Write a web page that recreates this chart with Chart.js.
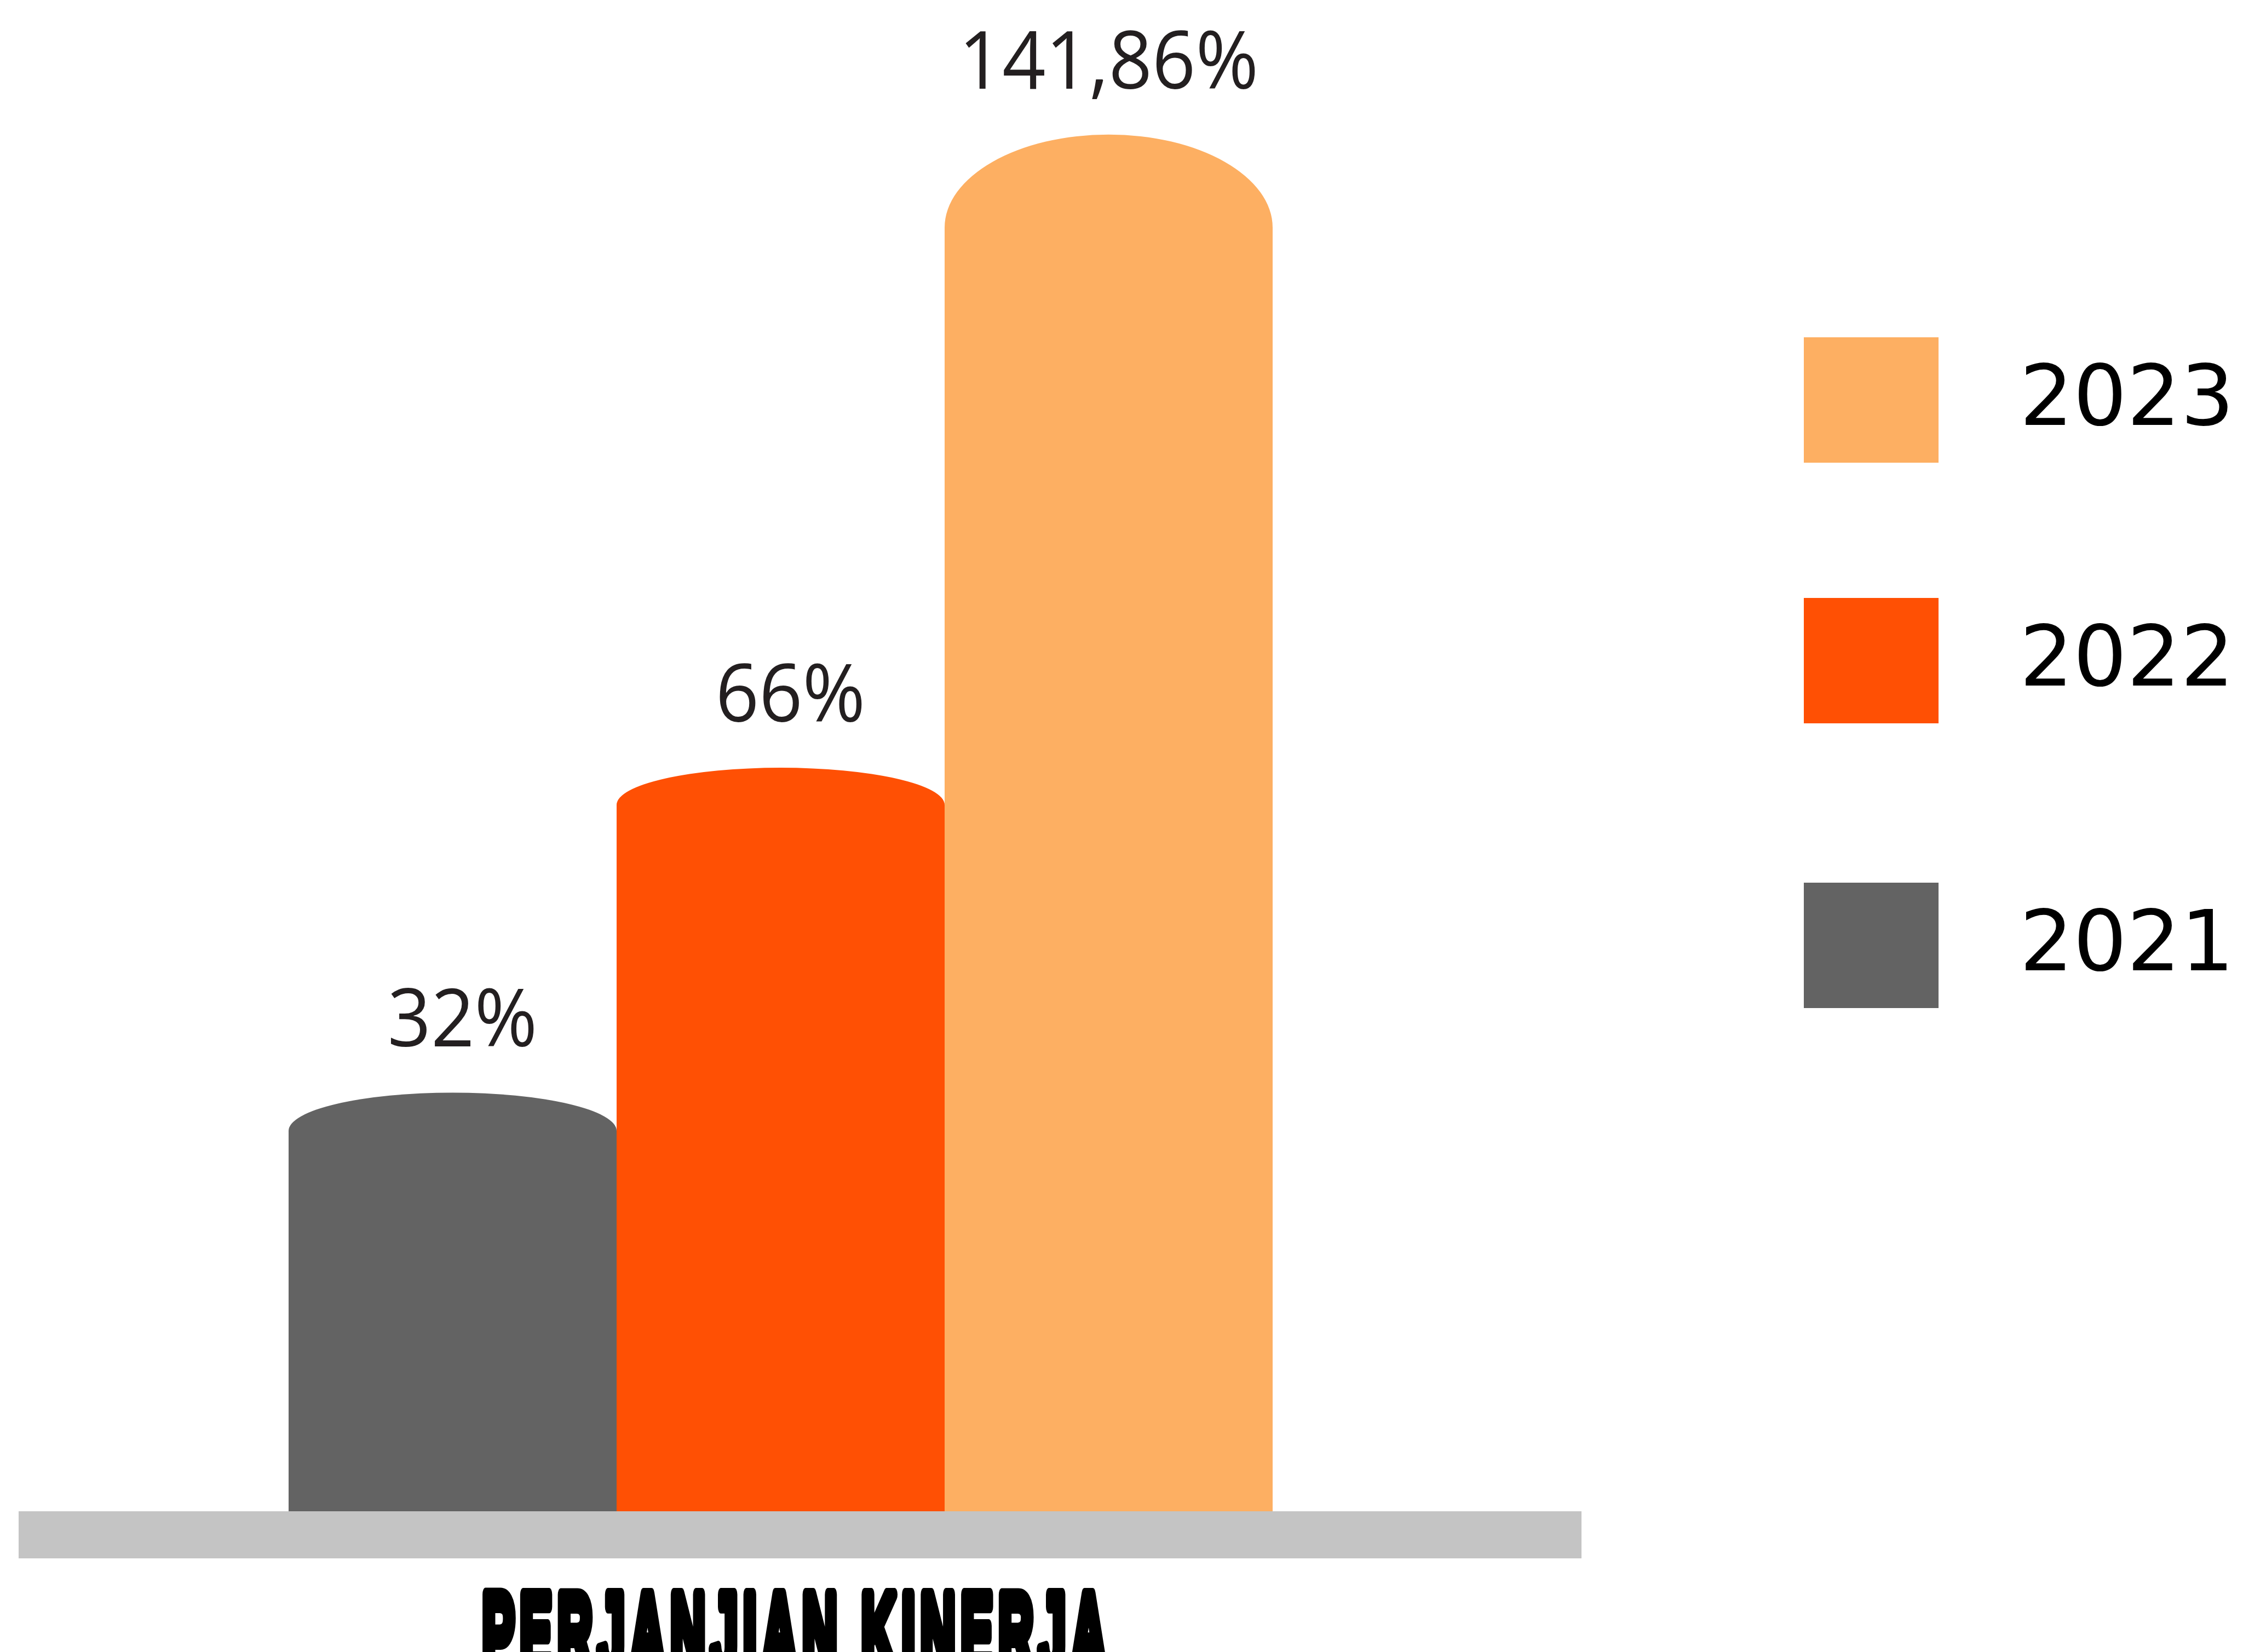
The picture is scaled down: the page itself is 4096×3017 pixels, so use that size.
<!DOCTYPE html>
<html>
<head>
<meta charset="utf-8">
<title>Perjanjian Kinerja</title>
<script src="https://cdn.jsdelivr.net/npm/chart.js@4.4.1/dist/chart.umd.min.js"></script>
<style>
  html, body { margin: 0; padding: 0; background: #fff; overflow: hidden; }
  #wrap { position: relative; width: 4096px; height: 3017px; }
</style>
</head>
<body>
<div id="wrap"><canvas id="chart"></canvas></div>
<script>
const categories = ['PERJANJIAN KINERJA'];
const years = ['2021', '2022', '2023'];
const values = [32, 66, 141.86];          // printed above each bar
const barHeights = [27.7, 49.2, 91.1];    // drawn height, % of plot height (the picture is not to scale)

const pctFormat = new Intl.NumberFormat('id-ID', { maximumFractionDigits: 2 });

// bars with an elliptical top instead of a flat one
const capBars = {
    id: 'capBars',
    beforeDatasetDraw(chart, args) {
        const ctx = chart.ctx;
        const ds = chart.data.datasets[args.index];
        args.meta.data.forEach(bar => {
            const { x, y, base, width } = bar.getProps(['x', 'y', 'base', 'width'], true);
            const rx = width / 2;
            const ry = Math.min(ds.capHeight || 0, base - y);
            ctx.save();
            ctx.fillStyle = ds.backgroundColor;
            ctx.beginPath();
            ctx.moveTo(x - rx, base);
            ctx.lineTo(x - rx, y + ry);
            ctx.ellipse(x, y + ry, rx, ry, 0, Math.PI, 2 * Math.PI);
            ctx.lineTo(x + rx, base);
            ctx.closePath();
            ctx.fill();
            ctx.restore();
        });
        return false;
    }
};

// grey floor under the bars
const floorBand = {
    id: 'floorBand',
    beforeDatasetsDraw(chart) {
        const { ctx, chartArea } = chart;
        ctx.save();
        ctx.fillStyle = '#c4c4c4';
        ctx.fillRect(34, chartArea.bottom, 2854, 86);
        ctx.restore();
    }
};

// percentage above each bar + category name under the floor
const barLabels = {
    id: 'barLabels',
    afterDatasetsDraw(chart) {
        const ctx = chart.ctx;
        ctx.save();
        ctx.fillStyle = '#231f20';
        ctx.font = '146px "Open Sans", "Noto Sans", sans-serif';
        ctx.textAlign = 'center';
        ctx.textBaseline = 'alphabetic';
        chart.data.datasets.forEach((ds, i) => {
            const bar = chart.getDatasetMeta(i).data[0];
            ctx.save();
            ctx.translate(bar.x + (i < 2 ? 18 : 0), bar.y - 84);
            ctx.scale(0.95, 1);
            ctx.fillText(pctFormat.format(ds.printed) + '%', 0, 0);
            ctx.restore();
        });

        // condensed heavy title
        const title = chart.data.labels[0];
        ctx.font = 'bold 200px "Liberation Sans", Arial, sans-serif';
        ctx.letterSpacing = '22px';
        ctx.lineWidth = 24;
        ctx.lineJoin = 'round';
        ctx.strokeStyle = '#000';
        ctx.fillStyle = '#000';
        const w = ctx.measureText(title).width + 2;
        const sx = 1150 / w;
        ctx.translate(1455, 3050);
        ctx.scale(sx, 1);
        ctx.fillText(title, 0, 0);
        ctx.strokeText(title, 0, 0);
        ctx.restore();
    }
};

// legend on the right, newest year on top
const sideLegend = {
    id: 'sideLegend',
    afterDraw(chart) {
        const ctx = chart.ctx;
        const tops = [1612, 1092, 616]; // 2021, 2022, 2023
        ctx.save();
        ctx.font = '154px "DejaVu Sans", sans-serif';
        ctx.textAlign = 'left';
        ctx.textBaseline = 'alphabetic';
        chart.data.datasets.forEach((ds, i) => {
            ctx.fillStyle = ds.backgroundColor;
            ctx.fillRect(3294, tops[i], 246, 229);
            ctx.fillStyle = '#000';
            ctx.fillText(ds.label, 3688, tops[i] + 114 + 46);
        });
        ctx.restore();
    }
};

const styles = [
    { color: '#636363', cap: 70 },
    { color: '#ff5004', cap: 68 },
    { color: '#fdaf62', cap: 170 }
];

new Chart(document.getElementById('chart'), {
    type: 'bar',
    data: {
        labels: categories,
        datasets: years.map((year, i) => ({
            label: year,
            data: [barHeights[i]],
            printed: values[i],
            backgroundColor: styles[i].color,
            capHeight: styles[i].cap,
            borderWidth: 0,
            categoryPercentage: 0.6457,
            barPercentage: 1.0
        }))
    },
    options: {
        responsive: true,
        maintainAspectRatio: false,
        animation: false,
        layout: { padding: { left: 34, right: 1279, top: 0, bottom: 257 } },
        plugins: {
            legend: { display: false },
            tooltip: { enabled: false },
            title: { display: false }
        },
        scales: {
            x: { display: false },
            y: { display: false, min: 0, max: 100 }
        }
    },
    plugins: [floorBand, capBars, barLabels, sideLegend]
});
</script>
</body>
</html>
